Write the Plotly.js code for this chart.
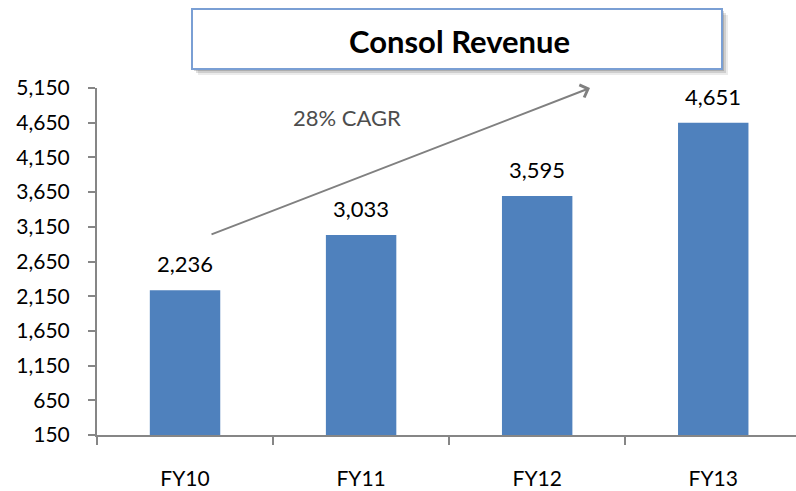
<!DOCTYPE html>
<html>
<head>
<meta charset="utf-8">
<script src="https://cdn.plot.ly/plotly-3.0.1.min.js"></script>
<style>html,body{margin:0;padding:0;background:#fff;}#chart{width:796px;height:491px;}</style>
</head>
<body>
<div id="chart"></div>
<script>
// ---- data ----
const categories = ["FY10", "FY11", "FY12", "FY13"];
const revenue = [2236, 3033, 3595, 4651];
const yTickVals = [150, 650, 1150, 1650, 2150, 2650, 3150, 3650, 4150, 4650, 5150];
const yTickText = ["150", "650", "1,150", "1,650", "2,150", "2,650", "3,150", "3,650", "4,150", "4,650", "5,150"];
const chartTitle = "Consol Revenue";
const cagrText = "28% CAGR";

// ---- layout helpers (pixel -> paper) ----
const W = 796, H = 491;
const mL = 97, mR = 0, mT = 88, mB = 56;
const pw = W - mL - mR, ph = H - mT - mB;
const px = v => (v - mL) / pw;
const py = v => (H - mB - v) / ph;

const FONT = "Lato, 'Open Sans', sans-serif";

const trace = {
  type: "bar",
  x: categories,
  y: revenue,
  marker: {color: "#4f81bd"},
  width: 0.4,
  cliponaxis: false,
  hoverinfo: "skip"
};

const shapes = [];
// title box shadow
[[6,0.08],[4,0.12],[2,0.16]].forEach(([o,a]) => {
  shapes.push({type:"rect", xref:"paper", yref:"paper",
    x0: px(192+o), x1: px(722+o), y0: py(69+o), y1: py(9+o),
    line:{width:0}, fillcolor:`rgba(0,0,0,${a})`, layer:"above"});
});
shapes.push({type:"rect", xref:"paper", yref:"paper",
  x0: px(192), x1: px(722), y0: py(69), y1: py(9),
  line:{color:"#7a9fd4", width:2}, fillcolor:"#ffffff", layer:"above"});

// value labels from the data
const valueLabels = categories.map((c, i) => ({
  xref: "x", yref: "y", x: c, y: revenue[i],
  text: revenue[i].toLocaleString("en-US"),
  showarrow: false, yanchor: "bottom", yshift: 11,
  font: {family: FONT, size: 22, color: "#000"}
}));

const layout = {
  width: W, height: H,
  margin: {l: mL, r: mR, t: mT, b: mB},
  paper_bgcolor: "#fff", plot_bgcolor: "#fff",
  showlegend: false,
  font: {family: FONT, color: "#000"},
  xaxis: {
    type: "category",
    range: [-0.5, 3.47],
    showline: true, linecolor: "#868686", linewidth: 2,
    ticks: "outside", tickson: "boundaries", ticklen: 8, tickcolor: "#868686", tickwidth: 2,
    ticklabelstandoff: 24,
    tickfont: {family: FONT, size: 21, color: "#000"},
    showgrid: false, zeroline: false, fixedrange: true
  },
  yaxis: {
    range: [150, 5150],
    tickvals: yTickVals, ticktext: yTickText,
    showline: true, linecolor: "#868686", linewidth: 2,
    ticks: "outside", ticklen: 7, tickcolor: "#868686", tickwidth: 2,
    ticklabelstandoff: 14,
    tickfont: {family: FONT, size: 21, color: "#000"},
    showgrid: false, zeroline: false, fixedrange: true
  },
  shapes: shapes,
  annotations: [
    {xref:"paper", yref:"paper", x: px(460), y: py(41), text: "<b>" + chartTitle + "</b>",
     showarrow:false, font:{family: FONT, size: 31, color:"#000"}, xanchor:"center", yanchor:"middle"},
    {xref:"paper", yref:"paper", x: px(590), y: py(88), text: "",
     showarrow:true, axref:"pixel", ayref:"pixel", ax: 210-590, ay: 235-88,
     arrowcolor:"#808080", arrowwidth:2, arrowhead:4, arrowsize:1.3, standoff:0},
    {xref:"paper", yref:"paper", x: px(347), y: py(118), text: cagrText,
     showarrow:false, font:{family: FONT, size: 22, color:"#4d4d4d"}, xanchor:"center", yanchor:"middle"}
  ].concat(valueLabels)
};

Plotly.newPlot("chart", [trace], layout, {displayModeBar: false, staticPlot: true});
</script>
</body>
</html>
